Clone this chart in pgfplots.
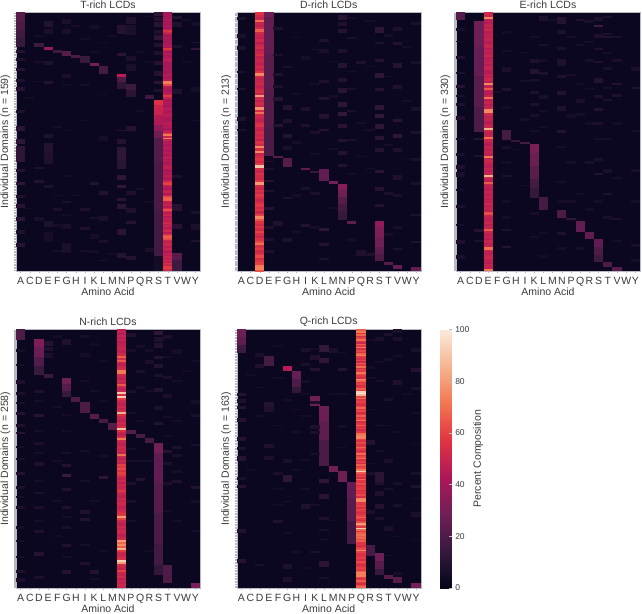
\documentclass[border=0pt]{standalone}
\usepackage{fontspec}
\setmainfont{Liberation Sans}
\usepackage{pgfplots}
\pgfplotsset{compat=1.18}
\definecolor{bg}{RGB}{11,7,32}
\definecolor{txt}{RGB}{58,58,58}
\definecolor{tk}{RGB}{185,185,195}
\pgfdeclareplotmark{cell}{%
  \pgfpathrectangle{\pgfpoint{-4.65pt}{-0.5*\hh*\rowh-0.05pt}}{\pgfpoint{9.3pt}{\hh*\rowh+0.1pt}}%
  \pgfusepathqfill}
\pgfplotsset{
  /pgfplots/table/sptab/.style={x expr=\thisrowno{0}+0.5,y expr=\thisrowno{1}+0.5*\thisrowno{2},meta index=3,header=false},
  /pgfplots/table/dmtab/.style 2 args={x expr=#1+0.5,y expr=(\coordindex+0.5)*#2,meta index=0,header=false},
  sp/.style={scatter,only marks,mark=cell,scatter src=explicit,scatter/use mapped color={fill=mapped color,draw=none},visualization depends on={value \thisrowno{2} \as \hh}},
  dm/.style={scatter,only marks,mark=cell,scatter src=explicit,scatter/use mapped color={fill=mapped color,draw=none},visualization depends on={value #1 \as \hh}},
  hm/.style={scale only axis,width=184pt,height=258.5pt,xmin=0,xmax=20,ymin=0,ymax=#1,y dir=reverse,
    axis background/.style={fill=bg},
    colormap={rocket}{rgb255=(3,5,26) rgb255=(53,25,62) rgb255=(112,31,87) rgb255=(173,23,89) rgb255=(225,51,66) rgb255=(243,118,81) rgb255=(246,180,143) rgb255=(250,235,221)},
    point meta min=0,point meta max=100,
    xtick={0.5,1.5,...,19.5},
    xticklabels={A,C,D,E,F,G,H,I,K,L,M,N,P,Q,R,S,T,V,W,Y},
    x tick label style={font=\fontsize{10.5}{12}\selectfont,text=txt,anchor=north,text height=7.6pt,text depth=0pt,yshift=-2.5pt,inner sep=1pt},
    yticklabels={},
    tick style={tk,line width=0.25pt},
    major tick length=2pt,
    tick align=outside,xtick pos=bottom,ytick pos=left,
    axis line style={tk,line width=0.4pt},
    title style={at={(axis description cs:0.5,1.006)},anchor=center,font=\fontsize{10.5}{12}\selectfont,text=txt},
    xlabel style={at={(axis description cs:0.5,-0.08)},anchor=center,font=\fontsize{10.5}{12}\selectfont,text=txt},
    ylabel style={at={(axis description cs:-0.057,0.5)},anchor=center,font=\fontsize{10.5}{12}\selectfont,text=txt},
    xlabel={Amino Acid}}
}
\begin{document}
\begin{tikzpicture}
\path[use as bounding box] (0,0) rectangle (642pt,613pt);
\def\rowh{1.626pt}
\begin{axis}[hm=159,at={(16pt,342pt)},anchor=south west,title={T-rich LCDs},ylabel={Individual Domains (n = 159)},ytick={0.5,1.5,...,158.5}]
\addplot[sp] table[sptab]{
0 0 5 22
0 5 5 20
0 10 5 17
0 15 6 14
2 19 2 16
3 21 2 38
4 23 2 16
5 24 3 22
6 26 2 20
7 27 4 15
8 31 2 30
9 33 5 18
11 38 2 46
11 40 3 20
11 43 4 12
12 44 4 16
12 48 4 11
14 51 2 16
15 54 3 56
15 57 6 50
15 63 6 44
15 69 4 36
15 73 4 28
15 77 15 21
15 92 30 19
15 122 28 17
15 150 9 5
17 148 4 22
17 152 7 16
15 0 2 12
15 3 2 9
15 6 3 11
15 11 2 8
15 14 3 12
15 19 2 9
15 24 2 8
15 30 2 10
15 36 3 9
15 42 2 11
15 47 2 8
17 2 2 9
17 6 3 8
17 20 2 7
17 47 3 8
17 100 2 7
17 118 4 9
17 130 3 10
3 5 4 9
3 10 3 7
3 30 2 8
3 42 2 9
3 75 2 8
3 80 6 9
3 86 7 8
3 106 2 8
3 128 4 8
3 135 6 6
5 4 3 7
5 10 3 7
5 38 2 7
5 130 3 7
5 142 6 7
11 8 5 9
11 25 2 11
11 72 1 10
11 78 3 9
11 83 8 12
11 91 5 11
11 100 3 12
11 106 2 12
11 114 2 11
11 118 3 11
11 133 4 11
11 148 3 10
12 3 4 8
12 8 6 7
12 27 3 7
12 32 4 7
12 70 3 10
12 110 2 8
12 120 3 8
12 128 2 10
12 150 2 9
0 23 2 9
0 28 2 8
0 34 2 10
0 41 2 8
0 46 2 10
0 60 2 8
0 70 3 11
0 78 3 12
0 82 10 12
0 96 2 9
0 104 2 12
0 112 2 8
0 118 2 10
0 126 2 11
0 134 2 8
0 142 2 9
7 120 2 8
8 136 3 6
8 104 2 9
9 110 2 9
9 125 3 7
9 76 3 6
19 22 1 12
19 18 1 8
19 46 3 6
19 122 2 7
19 130 4 7
4 120 2 7
2 95 1 8
2 103 2 9
2 126 2 7
1 52 1 6
1 120 1 6
2 30 1 6
2 42 1 6
2 14 1 5
4 70 1 6
4 112 1 6
4 130 2 6
4 146 1 6
5 44 1 5
5 72 1 6
5 100 1 5
5 116 1 7
5 124 1 6
6 8 1 5
6 112 1 5
7 16 1 5
7 44 1 6
7 66 1 5
7 132 2 8
7 146 1 6
8 8 2 6
8 24 1 5
8 126 1 7
8 146 2 6
9 18 1 5
9 50 1 5
9 140 2 7
9 152 1 7
10 14 1 5
10 148 1 5
13 24 1 6
13 60 1 5
13 108 1 6
14 2 1 6
14 30 1 5
14 116 1 6
14 145 2 7
18 4 1 5
18 30 1 5
19 6 2 6
19 66 1 6
19 140 1 8
}; 
\addplot[dm=1] table[dmtab={16}{1}]{
40
42
38
41
44
39
42
40
43
41
45
56
50
42
40
44
42
41
39
43
44
42
56
48
42
45
41
43
46
48
43
40
42
41
44
43
39
42
45
44
42
46
72
74
62
46
44
42
43
45
47
58
48
44
42
45
43
41
44
46
43
42
45
47
44
42
41
44
46
43
45
42
44
48
58
72
50
73
48
44
45
43
42
46
44
43
45
42
44
47
43
45
42
44
46
48
44
42
45
43
46
44
42
50
58
60
48
45
43
47
50
44
48
62
68
66
48
45
50
44
53
62
52
46
50
44
47
48
45
52
47
50
45
48
53
46
54
64
68
62
50
46
52
48
45
50
47
44
48
46
50
47
52
48
54
50
58
60
52
};
\end{axis}
\def\rowh{1.2136pt}
\begin{axis}[hm=213,at={(236.7pt,342pt)},anchor=south west,title={D-rich LCDs},ylabel={Individual Domains (n = 213)},ytick={0.5,1.5,...,212.5}]
\addplot[sp] table[sptab]{
3 0 4 28
3 4 30 25
3 34 30 23
3 64 30 21
3 94 24 19
4 118 2 22
5 120 7 22
7 128 2 25
8 131 1 14
9 129 10 25
10 139 2 30
11 141 5 34
11 146 6 28
11 152 6 22
11 158 6 18
11 164 7 14
12 172 2 25
15 172 5 36
15 177 8 32
15 185 8 28
15 193 6 24
15 199 6 20
16 206 2 22
17 208 3 26
19 210 3 25
11 2 4 11
11 8 3 8
11 14 3 9
11 30 3 8
11 42 4 10
11 54 3 9
11 62 4 11
11 74 4 12
11 82 3 13
11 92 3 11
11 104 3 9
11 114 3 10
11 125 2 9
15 12 5 12
15 24 2 8
15 38 3 9
15 50 4 12
15 62 3 9
15 76 4 12
15 84 3 13
15 92 4 12
15 102 3 11
15 112 3 9
15 130 2 11
15 144 3 10
15 158 2 9
13 40 2 8
17 12 3 8
17 24 3 9
17 42 4 10
17 60 3 8
17 88 2 11
17 100 3 12
17 112 3 8
17 134 4 8
0 4 2 8
0 18 3 7
0 28 3 8
0 48 2 7
0 62 2 8
0 86 3 8
0 96 2 7
5 44 2 7
5 76 4 10
5 88 3 8
5 100 3 10
5 110 3 7
5 152 2 8
5 186 3 8
9 22 2 8
9 30 3 7
9 56 2 8
9 70 2 9
9 84 4 9
9 96 2 10
9 178 2 12
9 190 2 9
9 202 2 8
7 36 3 6
7 78 3 8
7 92 2 8
7 144 2 7
7 174 3 9
4 12 2 8
4 34 2 7
4 50 2 8
4 60 2 7
4 70 3 10
4 92 2 9
4 172 4 8
19 8 2 7
19 40 2 7
19 78 3 7
19 98 2 8
19 140 2 7
19 166 2 8
12 20 2 7
12 62 2 7
12 80 2 7
14 198 3 8
13 196 5 8
3 122 1 8
3 128 2 7
3 138 2 9
3 146 2 8
3 160 3 9
3 176 2 8
3 186 2 7
3 196 2 8
6 20 1 5
6 66 2 6
6 106 2 6
6 150 2 6
6 180 2 6
8 30 1 6
8 58 2 6
8 98 2 7
8 116 1 6
8 148 2 7
8 176 2 6
10 40 1 5
10 68 2 6
10 112 1 6
10 160 2 5
12 4 1 6
12 48 1 6
12 104 2 7
12 132 2 6
12 186 2 6
13 90 2 6
13 118 1 6
14 6 2 6
14 44 1 6
14 96 2 6
14 128 1 6
16 18 2 6
16 52 1 6
16 108 2 6
16 148 2 7
16 182 2 6
18 28 1 5
18 72 2 6
18 120 1 5
19 120 2 7
19 188 2 8
17 150 2 7
17 176 2 7
17 194 2 8
}; 
\addplot[dm=2] table[dmtab={2}{2}]{
56
53
50
70
50
48
52
66
53
50
48
52
46
50
53
48
50
54
48
51
50
48
53
50
56
75
52
48
50
53
48
51
54
50
80
52
48
53
50
78
54
70
52
50
48
53
56
50
48
54
50
53
48
56
52
75
54
75
50
53
56
52
58
90
54
50
56
53
52
58
80
54
50
56
52
58
53
50
54
58
52
56
50
60
75
64
56
52
58
53
60
54
50
56
62
70
54
58
52
56
62
54
58
60
72
74
64
};
\end{axis}
\def\rowh{0.7833pt}
\begin{axis}[hm=330,at={(456pt,342pt)},anchor=south west,title={E-rich LCDs},ylabel={Individual Domains (n = 330)},ytick={0.5,1.5,...,329.5}]
\addplot[sp] table[sptab]{
0 0 10 22
2 11 30 28
2 41 40 26
2 81 40 23
2 121 31 20
5 150 13 18
6 163 2 14
7 165 3 18
8 168 12 31
8 180 16 27
8 196 16 23
8 212 12 18
8 224 13 14
9 236 16 18
11 252 10 20
12 262 3 12
13 266 14 25
14 280 9 25
15 289 10 25
15 299 10 20
15 309 9 16
16 318 7 20
17 325 5 22
0 56 3 8
0 92 4 10
0 116 3 8
0 132 5 8
0 195 5 8
0 204 6 7
0 246 4 7
0 290 6 8
0 310 4 7
5 24 4 6
5 70 6 7
5 96 4 8
5 170 4 7
5 207 3 8
5 276 3 8
5 298 3 10
2 160 3 10
2 182 3 8
2 276 4 10
2 290 3 8
8 60 4 8
8 72 6 9
8 85 3 8
8 100 4 8
8 116 3 8
9 5 6 8
9 40 3 7
9 76 4 8
9 106 4 7
11 6 8 9
11 22 5 8
11 44 4 7
11 60 8 8
11 80 4 8
11 100 5 9
11 120 6 8
11 150 4 9
11 280 4 8
13 8 3 8
13 110 5 7
13 128 4 6
15 6 5 8
15 16 3 16
15 28 4 8
15 45 3 8
15 62 3 8
15 84 6 9
15 106 3 8
15 122 4 9
15 186 4 7
15 205 3 10
16 4 3 8
16 26 3 8
16 30 2 9
16 70 3 7
16 110 3 8
16 200 5 7
16 230 3 8
17 30 3 7
17 60 3 7
17 104 4 8
17 90 3 9
17 262 3 8
19 70 4 7
19 95 3 8
19 200 4 7
19 296 3 7
14 10 3 7
14 60 3 7
12 130 4 6
10 8 3 6
4 100 3 5
6 174 2 6
0 20 3 6
0 36 2 6
0 76 3 7
0 106 2 7
0 160 3 7
0 180 3 7
0 225 3 6
0 270 3 6
5 48 3 6
5 120 3 6
5 190 3 6
5 240 3 6
5 260 3 6
7 50 2 5
7 86 3 6
7 135 3 6
7 220 2 5
8 30 3 6
8 130 3 7
8 150 2 6
8 255 3 6
8 285 3 6
9 60 3 6
9 124 3 6
9 145 2 6
9 280 3 6
9 310 3 5
11 170 3 6
11 215 3 6
11 240 3 6
11 300 3 6
12 30 3 6
12 78 3 6
12 190 3 6
12 240 3 6
13 40 3 6
13 90 3 6
13 230 3 6
13 300 3 6
14 36 3 6
14 96 3 6
14 140 3 6
14 190 3 7
14 250 3 6
15 140 3 7
15 160 3 6
15 240 3 6
16 50 3 6
16 95 3 6
16 160 3 6
16 260 3 7
17 140 3 6
17 210 3 6
17 290 3 6
19 150 3 6
19 240 3 6
19 315 3 6
}; 
\addplot[dm=3] table[dmtab={3}{3}]{
52
50
75
47
45
49
47
51
46
48
47
49
45
47
50
46
48
47
51
45
47
49
46
50
47
45
49
47
51
46
75
49
65
47
45
49
70
47
50
46
49
75
76
51
47
49
45
47
50
85
52
47
49
70
51
47
45
49
47
50
47
72
49
51
47
46
50
47
49
85
51
47
65
49
47
45
50
47
49
46
48
51
47
49
46
62
50
47
48
51
47
49
65
51
47
49
46
50
47
49
70
50
47
49
51
47
46
49
48
72
};
\end{axis}
\def\rowh{1.002pt}
\begin{axis}[hm=258,at={(16pt,25pt)},anchor=south west,title={N-rich LCDs},ylabel={Individual Domains (n = 258)},ytick={0.5,1.5,...,257.5}]
\addplot[sp] table[sptab]{
0 0 10 20
2 10 8 32
2 18 9 27
2 27 9 21
2 36 9 15
3 44 4 15
5 48 6 28
5 54 7 22
5 61 6 15
6 67 5 20
7 72 11 20
8 84 5 22
9 89 4 18
10 93 7 22
12 100 4 22
13 104 4 18
14 108 5 18
15 113 10 29
15 123 30 25
15 153 30 22
15 183 30 19
15 213 22 17
15 235 10 13
16 235 18 20
19 253 5 30
3 12 4 10
3 18 3 8
3 24 4 7
5 10 5 8
15 2 3 12
15 8 4 8
15 14 4 9
15 26 3 9
15 34 4 9
15 44 3 8
15 58 4 9
15 76 4 8
15 92 3 9
16 6 3 7
16 46 3 7
16 64 4 7
16 120 3 9
16 132 3 7
17 124 3 7
16 152 3 7
17 20 4 6
0 50 4 8
0 62 3 7
0 82 3 9
0 94 3 8
0 102 2 10
0 142 3 9
0 156 3 7
0 176 3 7
0 196 3 6
0 240 3 8
0 248 4 7
2 60 3 8
2 84 3 10
2 112 3 7
2 132 4 8
2 176 3 7
2 200 3 8
2 222 4 10
2 246 3 7
5 134 3 9
5 144 3 15
5 158 3 8
5 176 3 8
5 196 3 7
5 214 3 8
5 240 4 9
7 24 3 6
7 180 4 8
7 188 3 9
7 232 3 8
8 240 4 9
9 146 3 12
12 4 3 8
12 60 3 7
12 152 3 7
12 170 3 7
13 56 3 6
13 148 3 9
13 40 3 7
14 30 4 7
17 116 3 8
17 140 3 6
17 150 3 8
19 70 4 6
19 84 3 7
19 170 3 6
19 156 3 9
0 20 2 6
0 34 2 6
0 72 2 7
0 116 2 6
0 128 2 7
0 166 2 6
0 210 2 6
0 226 2 6
2 70 2 6
2 100 2 6
2 122 2 6
2 150 2 6
2 162 2 7
2 190 2 6
4 6 2 5
4 76 2 6
4 130 2 5
4 170 2 6
4 205 2 5
5 84 2 6
5 100 2 6
5 122 2 7
5 186 2 6
5 226 2 6
7 6 2 6
7 50 2 5
7 120 2 6
7 150 2 6
7 214 2 6
8 14 2 5
8 60 2 6
8 170 2 5
8 248 2 6
9 30 2 5
9 70 2 5
9 125 2 6
9 220 2 5
12 20 2 6
12 82 2 6
12 118 2 6
12 130 2 6
12 190 2 6
13 16 2 6
13 90 2 5
13 130 2 6
14 20 2 6
14 60 2 6
14 130 2 6
14 220 2 5
16 26 2 6
16 86 2 6
16 105 2 6
16 180 2 6
17 50 2 5
17 90 2 6
17 190 2 6
18 40 2 5
19 30 2 5
19 114 2 7
19 200 2 6
}; 
\addplot[dm=2] table[dmtab={11}{2}]{
47
49
45
50
47
49
46
48
47
51
49
47
52
66
53
65
49
47
51
53
72
72
51
49
47
52
49
65
51
47
49
90
53
92
58
51
49
47
52
49
53
85
55
51
49
47
52
50
53
88
55
49
47
53
72
51
49
47
52
50
51
49
70
51
47
53
49
60
58
62
55
60
58
51
49
53
47
52
49
51
58
51
49
47
52
49
53
51
47
49
52
55
58
80
60
51
49
47
52
49
53
51
47
49
52
80
68
76
66
85
58
51
49
53
55
92
80
53
51
49
60
51
49
53
47
51
49
52
49
};
\end{axis}
\def\rowh{1.586pt}
\begin{axis}[hm=163,at={(236.7pt,25pt)},anchor=south west,title={Q-rich LCDs},ylabel={Individual Domains (n = 163)},ytick={0.5,1.5,...,162.5},
  colorbar,
  colorbar style={at={(1.105,1)},anchor=north west,scale only axis,width=11.7pt,height=258.5pt,
    axis line style={draw=none},
    ytick={0,20,...,100},ylabel={Percent Composition},
    title style={},
    ylabel style={font=\fontsize{10.5}{12}\selectfont,text=txt,at={(axis description cs:3.25,0.5)},anchor=center,rotate=0},
    y tick label style={font=\fontsize{8.5}{10}\selectfont,text=txt,/pgf/number format/assume math mode=true,xshift=0pt},
    major tick length=2.5pt,tick style={tk,line width=0.35pt},ytick pos=right}]
\addplot[sp] table[sptab]{
0 0 5 28
0 5 5 24
0 10 5 16
3 17 6 18
5 23 3 45
6 26 5 26
6 31 5 20
6 36 4 13
8 42 6 28
9 48 10 27
9 58 12 24
9 70 16 19
10 86 4 28
11 89 7 28
12 96 10 25
12 106 15 22
12 121 14 17
14 136 7 18
15 141 5 28
15 146 5 22
15 151 4 15
16 155 2 22
17 156 4 22
19 160 3 30
0 40 2 9
0 44 2 8
0 48 2 9
0 56 2 9
0 68 2 9
0 74 2 8
0 80 3 10
0 93 2 7
0 98 2 9
0 126 2 9
0 145 2 9
3 46 3 9
3 49 3 8
3 72 3 8
3 80 2 7
2 22 2 8
2 15 2 7
4 90 2 7
4 120 2 8
5 92 4 12
5 82 2 7
5 148 3 8
5 156 3 8
7 21 2 7
7 12 2 7
7 32 2 6
7 110 3 8
8 16 3 8
8 24 2 9
8 45 2 7
8 60 3 8
8 64 2 7
9 10 4 14
9 18 3 12
9 94 3 12
9 104 3 11
9 118 2 8
9 146 4 11
10 12 3 7
11 24 2 9
11 60 2 6
14 90 2 7
14 23 2 6
14 70 3 9
14 114 2 7
15 5 2 7
15 95 3 8
15 110 3 9
16 2 2 7
16 18 2 6
16 43 2 7
16 82 2 7
16 124 3 7
17 0 2 7
17 5 2 7
17 32 3 8
17 96 2 7
17 110 2 7
17 153 2 6
19 12 2 7
19 24 3 9
19 36 2 7
19 90 2 7
19 98 2 8
19 115 3 7
15 90 6 11
15 102 3 8
15 118 2 7
1 28 1 5
1 88 1 5
2 36 1 6
2 54 1 6
2 148 1 7
4 10 1 5
4 30 1 6
4 60 1 6
4 100 1 6
4 110 1 6
5 44 1 6
5 108 1 7
5 128 1 6
6 50 1 6
6 64 1 6
6 88 1 6
6 140 1 6
7 40 1 6
7 54 1 6
7 82 1 6
7 100 1 6
7 150 1 5
8 12 1 6
8 78 1 6
8 110 1 6
8 140 1 7
9 126 1 7
9 132 1 7
9 156 1 7
10 40 1 5
10 120 1 6
11 14 1 6
11 40 1 6
11 74 1 6
14 6 1 6
14 30 1 6
14 50 1 6
14 84 1 6
15 20 1 6
15 32 1 6
15 60 1 7
15 76 1 6
16 60 1 6
16 100 1 7
16 142 1 6
17 16 1 6
17 64 1 6
17 130 1 6
18 40 1 5
19 52 1 6
19 72 1 6
19 106 1 6
19 132 1 6
};
\addplot[dm=1] table[dmtab={13}{1}]{
66
72
58
68
54
60
70
56
52
66
58
72
54
62
56
68
74
58
54
60
52
66
58
70
54
60
56
72
62
58
54
76
68
56
60
54
58
66
60
92
98
86
60
70
56
62
58
54
60
68
56
62
54
58
66
56
60
70
54
58
66
56
60
52
58
68
72
76
74
60
56
62
54
58
68
60
54
58
70
56
62
70
56
60
54
66
58
62
72
92
66
56
60
54
68
58
56
62
54
58
60
54
58
56
62
54
72
76
74
58
56
60
54
62
58
54
56
60
68
58
54
62
80
66
58
92
68
58
66
70
66
68
62
66
56
58
54
58
62
76
60
56
54
58
60
54
62
58
54
56
60
58
66
74
72
74
60
56
66
58
54
62
68
};
\end{axis}
\end{tikzpicture}
\end{document}
